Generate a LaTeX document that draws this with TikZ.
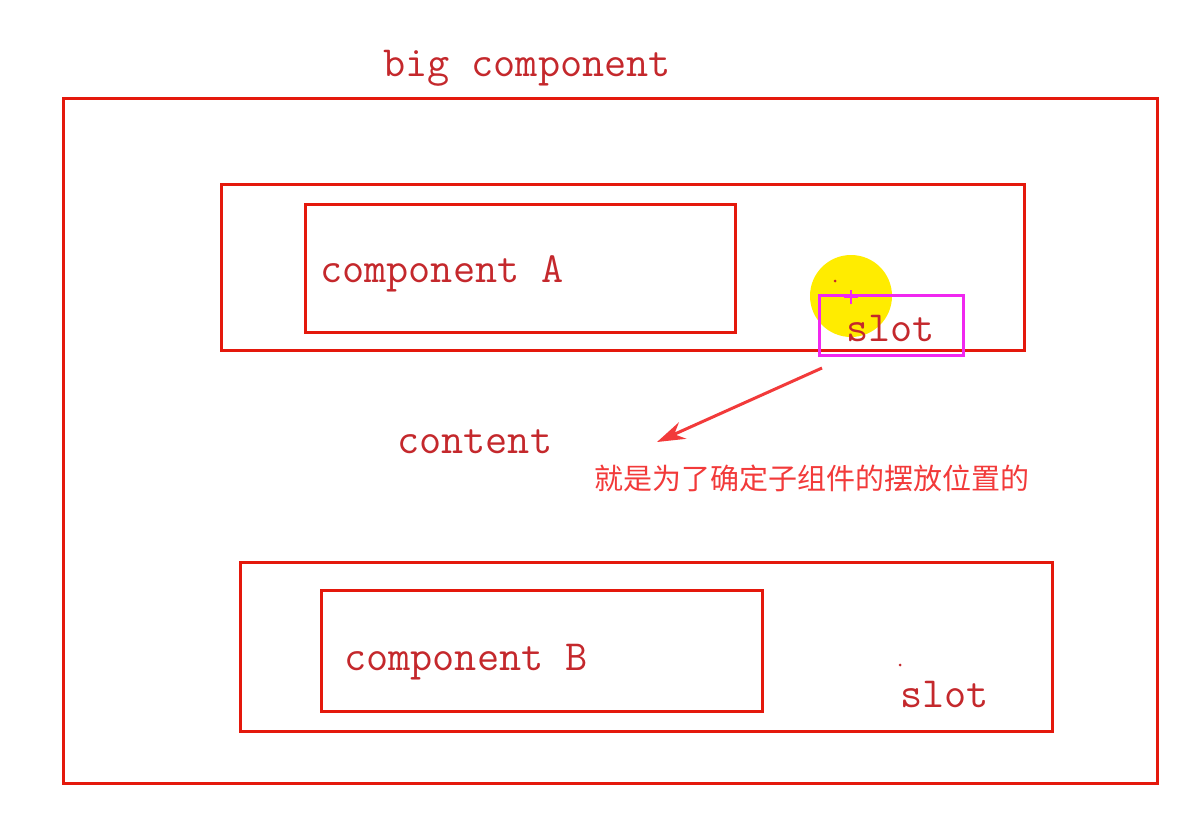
\documentclass[tikz,border=0pt]{standalone}
\usepackage{fontspec}
\newfontfamily\cjk{Noto Sans CJK SC}
\usetikzlibrary{arrows.meta}

\definecolor{boxred}{RGB}{228,24,12}
\definecolor{textred}{RGB}{196,40,44}
\definecolor{notered}{RGB}{242,58,58}
\definecolor{slotpink}{RGB}{240,40,240}
\definecolor{marker}{RGB}{255,236,0}

\tikzset{%
  >=Stealth,
  frame/.style={draw=boxred, line width=3pt},
  word/.style={text=textred, inner sep=0pt, font=\ttfamily\fontsize{43}{47}\selectfont},
  note/.style={text=notered, inner sep=0pt, font=\cjk\fontsize{29}{33}\selectfont}
}

\begin{document}
\begin{tikzpicture}[x=1pt, y=-1pt]
     \useasboundingbox (0,0) rectangle (1190,825);

     % the boxes
     \foreach \a/\b in {63/98, 221/184, 305/204, 240/562, 321/590}
       \coordinate (c\a) at (\a,\b);
     \draw[frame] (c63) rectangle (1157,783);
     \draw[frame] (c221) rectangle (1024,350);
     \draw[frame] (c305) rectangle (735,332);
     \draw[frame] (c240) rectangle (1052,731);
     \draw[frame] (c321) rectangle (762,711);

     % the cursor mark
     \fill[marker] (851,296) circle (41);
     \fill[textred] (835,281) circle (1.5);
     \fill[textred] (900,665) circle (1.5);
     \draw[slotpink, line width=2pt] (844,297) -- (858,297) (851,290) -- (851,304);

     % the labels
     \node[word] (big) at (527,68) {big component};
     \node[word, anchor=west] (compA) at (320,274) {component A};
     \node[word, anchor=west] (slotA) at (846,328) {slot};
     \node[word, anchor=west] (content) at (397,442) {content};
     \node[word, anchor=west] (compB) at (344,662) {component B};
     \node[word, anchor=west] (slotB) at (900,694) {slot};
     \node[note, anchor=west] (why) at (594,478) {就是为了确定子组件的摆放位置的};

     \draw[slotpink, line width=3pt] (819,295) rectangle (963,355);

     \coordinate (from) at (822,368);
     \coordinate (to) at (657,442);
     \draw[-{Stealth[length=28pt,width=18pt]}, notered, line width=3pt] (from) -- (to);

\end{tikzpicture}
\end{document}
